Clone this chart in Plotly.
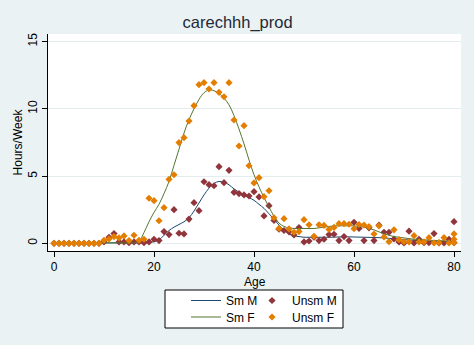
import plotly.graph_objects as go

# ---------------- data ----------------
ages = list(range(81))

sm_m = ([0.03] * 18 +
        [0.05, 0.07, 0.12, 0.25, 0.6, 0.95, 1.2, 1.4, 1.6, 1.9, 2.4, 3.0, 3.6, 4.1, 4.45, 4.6,
         4.55, 4.35, 4.05, 3.8, 3.6, 3.4, 3.2, 2.9, 2.6, 2.2, 1.8, 1.35, 1.0, 0.7, 0.55, 0.5, 0.45] +
        [0.45, 0.45, 0.45, 0.45, 0.45, 0.46, 0.47, 0.48, 0.48, 0.47, 0.46, 0.45, 0.44, 0.43] +
        [0.42, 0.4, 0.37, 0.33, 0.3, 0.27, 0.25, 0.22, 0.2, 0.18, 0.16, 0.15, 0.14, 0.13, 0.12, 0.12])

sm_f = ([0.03] * 17 +
        [0.15, 0.8, 1.6, 2.3, 2.9, 3.7, 4.6, 5.8, 7.0, 8.2, 9.2, 10.0, 10.7, 11.2, 11.4, 11.35, 11.15,
         10.8, 10.3, 9.5, 8.5, 7.4, 6.2, 5.1, 4.2, 3.4, 2.7, 2.0, 1.5, 1.25, 1.15, 1.1, 1.1, 1.1] +
        [1.1, 1.1, 1.15, 1.2, 1.25, 1.3, 1.3, 1.3, 1.3, 1.3, 1.25, 1.2] +
        [1.1, 1.0, 0.85, 0.7, 0.6, 0.5, 0.45, 0.4, 0.35, 0.3, 0.3, 0.25, 0.25, 0.2, 0.2, 0.18, 0.16, 0.15])

unsm_m_age = list(range(81)) + [80]
unsm_m = ([0.0] * 10 +
          [0.1, 0.45, 0.72, 0.1, 0.1, 0.05, 0.1, 0.1, 0.05, 0.1, 0.3, 0.2, 0.87, 0.65, 2.5, 0.75,
           0.7, 1.8, 3.02, 2.43, 4.58, 4.36, 4.28, 5.7, 4.51, 5.43, 3.79, 3.7, 3.6, 3.52, 3.84,
           3.45, 2.04, 2.8, 1.7, 1.05, 0.95, 0.85, 0.62, 1.17, 0.1] +
          [0.17, 0.45, 0.2, 0.3, 0.65, 0.67, 0.2, 0.5, 0.2, 1.56, 1.1, 0.2, 1.15, 0.2, 1.35, 0.82,
           0.82, 0.32, 0.1, 0.03, 0.9, 0.03, 0.3, 0.05, 0.05, 0.72, 0.03, 0.03, 0.3, 1.61] +
          [0.05])

unsm_f_age = list(range(81)) + [80, 80]
unsm_f = ([0.0] * 10 +
          [0.22, 0.32, 0.5, 0.4, 0.55, 0.2, 0.6, 0.22, 0.3, 3.35, 3.17, 1.68, 2.65, 4.76, 5.1, 7.49,
           7.86, 9.1, 10.24, 11.8, 11.95, 11.48, 11.95, 11.23, 10.9, 11.95, 9.17, 7.24, 8.75, 5.77,
           4.49, 4.88, 3.47, 3.91, 1.9, 1.11, 1.83, 1.07, 0.82, 0.87, 1.76] +
          [1.38, 0.52, 1.38, 1.33, 1.03, 1.18, 1.46, 1.46, 1.42, 1.08, 1.4, 1.36, 1.24, 0.69, 1.3,
           0.47, 0.12, 1.0, 0.27, 0.12, 0.1, 0.57, 0.1, 0.1, 0.42, 0.03, 0.05, 0.42, 0.03, 0.7] +
          [0.3, 0.05])

x_ticks = [0, 20, 40, 60, 80]
y_ticks = [0, 5, 10, 15]

# ---------------- styling ----------------
NAVY = "#1a476f"
MAROON = "#90353b"
GREEN = "#55752f"
ORANGE = "#e37e00"
BG = "#eaf2f3"
FONT = "Liberation Sans, Arial, sans-serif"

W, H = 474, 345
L, R, T, B = 48, 13, 34, 94
PW, PH = W - L - R, H - T - B


def px_x(p):
    return (p - L) / PW


def px_y(p):
    return (H - B - p) / PH


fig = go.Figure()
fig.add_trace(go.Scatter(x=ages, y=sm_m, mode="lines", name="Sm M", showlegend=True,
                         line=dict(color=NAVY, width=1, shape="spline"), legend="legend"))
fig.add_trace(go.Scatter(x=unsm_m_age, y=unsm_m, mode="markers", name="Unsm M", showlegend=True,
                         marker=dict(symbol="diamond", size=5.5, color=MAROON, line=dict(width=0)),
                         legend="legend2"))
fig.add_trace(go.Scatter(x=ages, y=sm_f, mode="lines", name="Sm F", showlegend=True,
                         line=dict(color=GREEN, width=1, shape="spline"), legend="legend3"))
fig.add_trace(go.Scatter(x=unsm_f_age, y=unsm_f, mode="markers", name="Unsm F", showlegend=True,
                         marker=dict(symbol="diamond", size=5.5, color=ORANGE, line=dict(width=0)),
                         legend="legend4"))

row1_top = px_y(286)
row2_top = px_y(302.5)
col1_x = px_x(186)
col2_x = px_x(252)
leg_common = dict(bgcolor="rgba(0,0,0,0)", borderwidth=0, xanchor="left", yanchor="top",
                  font=dict(family=FONT, size=12, color="#000000"))

fig.update_layout(
    width=W, height=H,
    showlegend=True,
    margin=dict(l=L, r=R, t=T, b=B, pad=0),
    paper_bgcolor=BG,
    plot_bgcolor="#ffffff",
    font=dict(family=FONT, size=12, color="#000000"),
    title=dict(text="carechhh_prod", x=px_x(255), xanchor="center", y=1 - 22.5 / H,
               yanchor="middle", font=dict(family=FONT, size=16.5, color="#1e2a3a")),
    legend=dict(x=col1_x, y=row1_top, **leg_common),
    legend2=dict(x=col2_x, y=row1_top, **leg_common),
    legend3=dict(x=col1_x, y=row2_top, **leg_common),
    legend4=dict(x=col2_x, y=row2_top, **leg_common),
    xaxis=dict(range=[-1.2, 81.4], tickvals=x_ticks, ticks="outside", ticklen=5,
               tickcolor="#000000", showline=True, linecolor="#000000", linewidth=1,
               showgrid=False, zeroline=False,
               tickfont=dict(size=12)),
    yaxis=dict(range=[-0.573, 15.57], tickvals=y_ticks, ticks="outside", ticklen=5,
               tickcolor="#000000", showline=True, linecolor="#000000", linewidth=1,
               showgrid=True, gridcolor="#e4ecee", gridwidth=1, zeroline=False,
               tickangle=-90,
               title=dict(text="Hours/Week", standoff=1, font=dict(size=12)),
               tickfont=dict(size=12)),
    annotations=[dict(text="Age", xref="paper", yref="paper", x=px_x(254.5), y=px_y(281.5),
                      xanchor="center", yanchor="middle", showarrow=False,
                      font=dict(family=FONT, size=12, color="#000000"))],
    shapes=[dict(type="rect", xref="paper", yref="paper",
                 x0=px_x(165), x1=px_x(343), y0=px_y(328), y1=px_y(290),
                 line=dict(color="#000000", width=1), fillcolor="#ffffff", layer="above")],
)

fig.write_html("out.html")
